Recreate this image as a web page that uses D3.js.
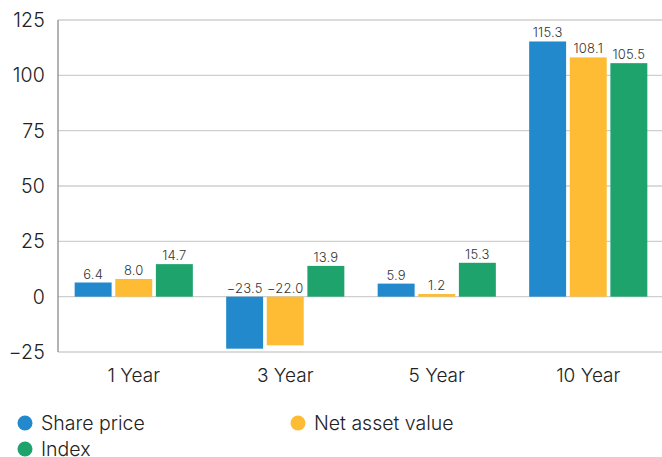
<!DOCTYPE html>
<html>
<head>
<meta charset="utf-8">
<script src="https://cdn.jsdelivr.net/npm/d3@7"></script>
<style>
body { margin: 0; background: #fff; }
svg { font-family: Inter, "Noto Sans", sans-serif; font-weight: 300; }
</style>
</head>
<body>
<div id="chart"></div>
<script>
var categories = ["1 Year", "3 Year", "5 Year", "10 Year"];
var seriesNames = ["Share price", "Net asset value", "Index"];
var sharePrice = [6.4, -23.5, 5.9, 115.3];
var netAssetValue = [8.0, -22.0, 1.2, 108.1];
var indexValues = [14.7, 13.9, 15.3, 105.5];
var yTicks = [-25, 0, 25, 50, 75, 100, 125];
var colors = ["#2389cd", "#fdbc34", "#1ea36c"];

var W = 662, H = 457;
var margin = {top: 20, right: -2, bottom: 105, left: 58};
var width = W - margin.left - margin.right;
var height = H - margin.top - margin.bottom;

var svg = d3.select("#chart").append("svg").attr("width", W).attr("height", H);
var g = svg.append("g").attr("transform", "translate(" + margin.left + "," + margin.top + ")");

var y = d3.scaleLinear().domain([-25, 125]).range([height, 0]);
var x = d3.scaleBand().domain(categories).range([0, width]).paddingInner(0.22).paddingOuter(0.11);
var x1 = d3.scaleBand().domain(seriesNames).range([0, x.bandwidth()]).paddingInner(0.09);

var fmt = function(v) { return v < 0 ? "\u2212" + Math.abs(v).toFixed(1) : v.toFixed(1); };

// gridlines
g.selectAll(".grid").data(yTicks).enter().append("line")
  .attr("x1", 0).attr("x2", width)
  .attr("y1", d => y(d)).attr("y2", d => y(d))
  .attr("stroke", "#cfcfcf").attr("stroke-width", 1.3);

// y labels
g.selectAll(".ylab").data(yTicks).enter().append("text")
  .attr("x", -13).attr("y", d => y(d)).attr("dy", "0.36em")
  .attr("text-anchor", "end").attr("font-size", 19.5).attr("fill", "#222")
  .attr("letter-spacing", 0.2)
  .text(d => d < 0 ? "\u2212" + Math.abs(d) : d);

var series = [sharePrice, netAssetValue, indexValues];
var groups = g.selectAll(".grp").data(categories).enter().append("g")
  .attr("transform", d => "translate(" + x(d) + ",0)");

groups.each(function(cat, i) {
  var gg = d3.select(this);
  seriesNames.forEach(function(s, j) {
    var v = series[j][i];
    gg.append("rect")
      .attr("x", x1(s)).attr("width", x1.bandwidth())
      .attr("y", y(Math.max(0, v))).attr("height", Math.abs(y(v) - y(0)))
      .attr("fill", colors[j]);
    gg.append("text")
      .attr("x", x1(s) + x1.bandwidth() / 2)
      .attr("y", v >= 0 ? y(v) - 4 : y(0) - 4)
      .attr("text-anchor", "middle").attr("font-size", 13).attr("fill", "#333")
      .attr("letter-spacing", 0.2)
      .text(fmt(v));
  });
});

// left axis line
g.append("line").attr("x1", 0).attr("x2", 0).attr("y1", y(125)).attr("y2", y(-25))
  .attr("stroke", "#8a8a8a").attr("stroke-width", 1.3);

// category labels
g.selectAll(".xlab").data(categories).enter().append("text")
  .attr("x", d => x(d) + x.bandwidth() / 2).attr("y", height + 30)
  .attr("text-anchor", "middle").attr("font-size", 19).attr("fill", "#222")
  .text(d => d);

// legend
var legendPos = [[25, 423], [298, 423], [25, 449]];
var leg = svg.selectAll(".leg").data(seriesNames).enter().append("g")
  .attr("transform", (d, i) => "translate(" + legendPos[i][0] + "," + legendPos[i][1] + ")");
leg.append("circle").attr("r", 7.5).attr("fill", (d, i) => colors[i]);
leg.append("text").attr("x", 16).attr("dy", "0.36em").attr("font-size", 19.5).attr("fill", "#222").text(d => d);
</script>
</body>
</html>
